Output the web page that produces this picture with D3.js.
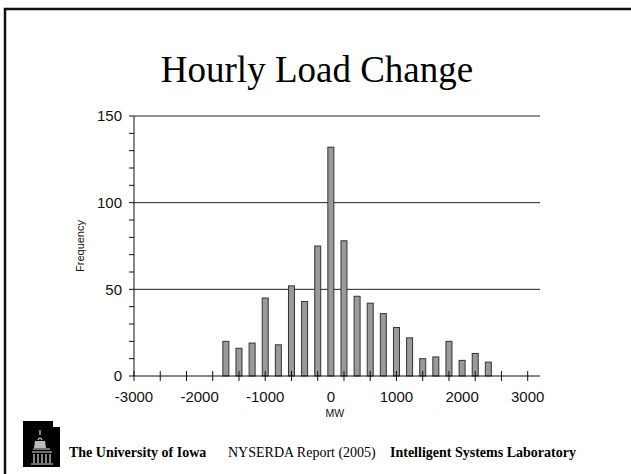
<!DOCTYPE html>
<html>
<head>
<meta charset="utf-8">
<script src="https://cdn.jsdelivr.net/npm/d3@7"></script>
<style>
    html, body { margin: 0; padding: 0; background: #fff; }
    svg { display: block; }
</style>
</head>
<body>
<svg id="chart"></svg>
<script>
'use strict';

// histogram of hourly load change, 200 MW bins
const binCenters = [-1600, -1400, -1200, -1000, -800, -600, -400, -200, 0, 200, 400,
    600, 800, 1000, 1200, 1400, 1600, 1800, 2000, 2200, 2400];
const frequencies = [20, 16, 19, 45, 18, 52, 43, 75, 132, 78, 46,
    42, 36, 28, 22, 10, 11, 20, 9, 13, 8];

const xTicks = [-3000, -2600, -2200, -1800, -1400, -1000, -600, -200, 200, 600,
    1000, 1400, 1800, 2200, 2600, 3000];
const xLabels = [-3000, -2000, -1000, 0, 1000, 2000, 3000];
const yMinorTicks = [0, 10, 20, 30, 40, 50, 60, 70, 80, 90, 100, 110, 120, 130, 140, 150];
const yLabels = [0, 50, 100, 150];
const gridLines = [50, 100, 150];

const footer = [
    {text: 'The University of Iowa', bold: true},
    {text: 'NYSERDA Report (2005)', bold: false},
    {text: 'Intelligent Systems Laboratory', bold: true}
];

const width = 631;
const height = 474;
const plot = {left: 134, right: 540};

const svg = d3.select('#chart')
    .attr('width', width)
    .attr('height', height);

// slide frame (runs off right and bottom)
svg.append('rect')
    .attr('x', 5)
    .attr('y', 9)
    .attr('width', width + 10)
    .attr('height', height + 10)
    .attr('fill', 'none')
    .attr('stroke', '#111')
    .attr('stroke-width', 2.5);

svg.append('text')
    .attr('x', 317)
    .attr('y', 82)
    .attr('text-anchor', 'middle')
    .attr('font-family', '"Liberation Serif", "Times New Roman", serif')
    .attr('font-size', 37)
    .text('Hourly Load Change');

const x = d3.scaleLinear().domain([-3000, 3000]).range([134, 527.7]);
const y = d3.scaleLinear().domain([0, 150]).range([376, 116]);

const g = svg.append('g')
    .attr('font-family', '"Liberation Sans", Arial, sans-serif');

g.append('g')
    .selectAll('line')
    .data(gridLines)
    .join('line')
    .attr('x1', plot.left)
    .attr('x2', plot.right)
    .attr('y1', d => y(d))
    .attr('y2', d => y(d))
    .attr('stroke', '#222')
    .attr('stroke-width', 1);

const barW = 6;
g.append('g')
    .selectAll('rect')
    .data(binCenters)
    .join('rect')
    .attr('x', d => x(d) - barW / 2)
    .attr('y', (d, i) => y(frequencies[i]))
    .attr('width', barW)
    .attr('height', (d, i) => y(0) - y(frequencies[i]))
    .attr('fill', '#9a9a9a')
    .attr('stroke', '#333')
    .attr('stroke-width', 1);

// x axis
g.append('line')
    .attr('x1', plot.left)
    .attr('x2', plot.right)
    .attr('y1', y(0))
    .attr('y2', y(0))
    .attr('stroke', '#111');

g.append('g')
    .selectAll('line')
    .data(xTicks)
    .join('line')
    .attr('x1', d => x(d))
    .attr('x2', d => x(d))
    .attr('y1', y(0) - 5)
    .attr('y2', y(0) + 5)
    .attr('stroke', '#111');

g.append('g')
    .selectAll('text')
    .data(xLabels)
    .join('text')
    .attr('x', d => x(d))
    .attr('y', 402)
    .attr('text-anchor', 'middle')
    .attr('font-size', 15)
    .attr('fill', '#111')
    .text(d => d);

g.append('text')
    .attr('x', x(0) + 4)
    .attr('y', 416.5)
    .attr('text-anchor', 'middle')
    .attr('font-size', 10.5)
    .attr('fill', '#111')
    .text('MW');

// y axis
g.append('line')
    .attr('x1', plot.left)
    .attr('x2', plot.left)
    .attr('y1', y(0))
    .attr('y2', y(150))
    .attr('stroke', '#111');

g.append('g')
    .selectAll('line')
    .data(yMinorTicks)
    .join('line')
    .attr('x1', plot.left - 5)
    .attr('x2', plot.left)
    .attr('y1', d => y(d))
    .attr('y2', d => y(d))
    .attr('stroke', '#111');

g.append('g')
    .selectAll('text')
    .data(yLabels)
    .join('text')
    .attr('x', 122)
    .attr('y', d => y(d))
    .attr('dy', '.36em')
    .attr('text-anchor', 'end')
    .attr('font-size', 15)
    .attr('fill', '#111')
    .text(d => d);

g.append('text')
    .attr('transform', 'translate(84,246) rotate(-90)')
    .attr('text-anchor', 'middle')
    .attr('font-size', 11)
    .attr('fill', '#111')
    .text('Frequency');

// logo
const logo = svg.append('g');
logo.append('rect').attr('x', 23).attr('y', 421).attr('width', 30).attr('height', 46).attr('fill', '#000');
logo.append('rect').attr('x', 23).attr('y', 427).attr('width', 37).attr('height', 40).attr('fill', '#000');
logo.append('path')
    .attr('d', 'M40,430 L40,435 M38,440 Q40,436 42,440 M33,449 L50,449 M32,452 L52,452 M34,454 L34,463 M38,454 L38,463 M42,454 L42,463 M46,454 L46,463 M50,454 L50,463 M31,464 L53,464')
    .attr('stroke', '#ddd')
    .attr('stroke-width', 1.2)
    .attr('fill', 'none');
logo.append('path')
    .attr('d', 'M35,441 L45,441 L46,448 L34,448 Z')
    .attr('fill', '#bbb');

// footer texts
const footX = [69, 228, 390];
svg.append('g')
    .selectAll('text')
    .data(footer)
    .join('text')
    .attr('x', (d, i) => footX[i])
    .attr('y', 457)
    .attr('font-family', '"Liberation Serif", "Times New Roman", serif')
    .attr('font-size', 14)
    .attr('font-weight', d => d.bold ? 'bold' : 'normal')
    .attr('fill', '#000')
    .text(d => d.text);
</script>
</body>
</html>
